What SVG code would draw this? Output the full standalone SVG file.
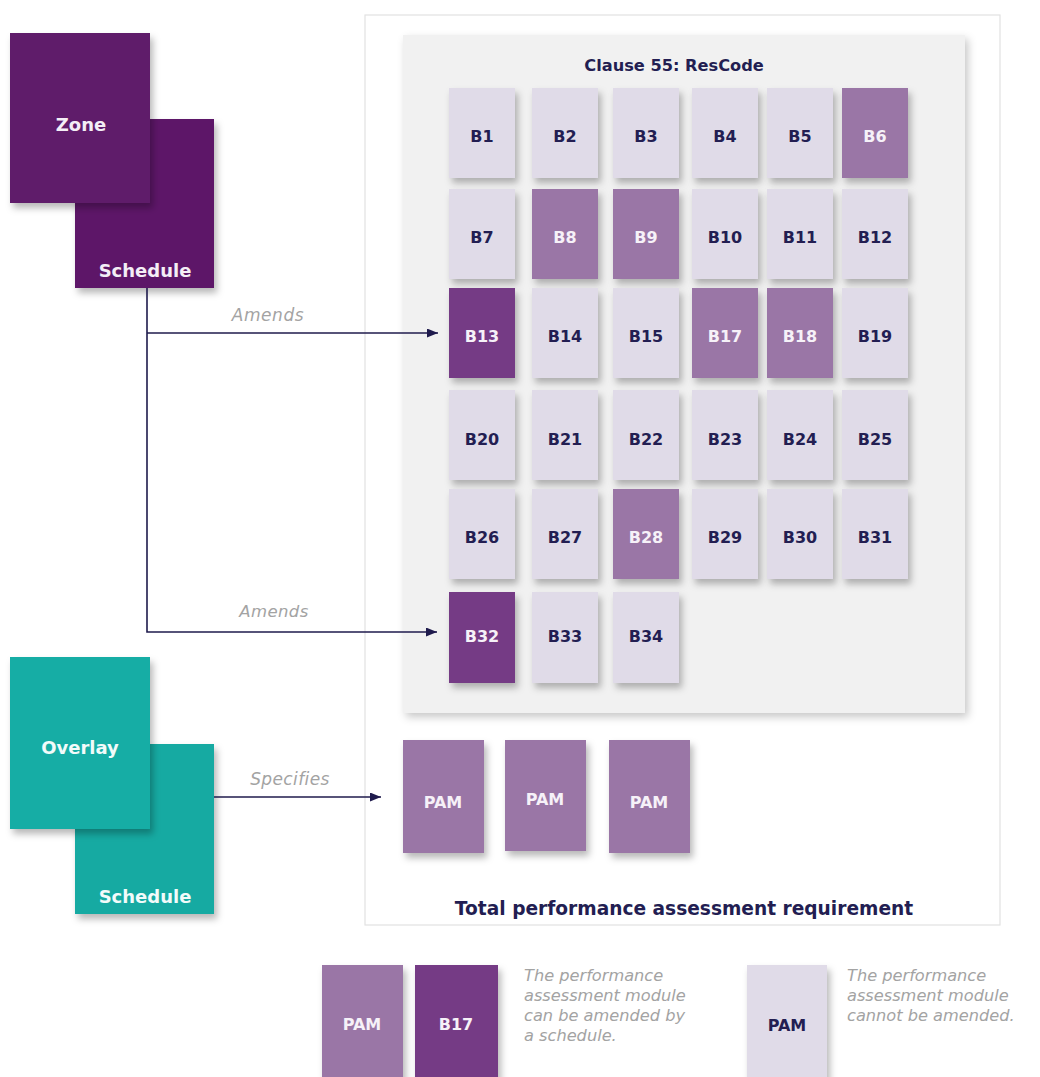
<svg xmlns="http://www.w3.org/2000/svg" width="1040" height="1077" viewBox="0 0 1040 1077">
  <defs>
    <filter id="shadow" x="-20%" y="-20%" width="150%" height="150%">
      <feDropShadow dx="3" dy="5" stdDeviation="3.5" flood-color="#000" flood-opacity="0.28"/>
    </filter>
    <filter id="panelShadow" x="-5%" y="-5%" width="112%" height="112%">
      <feDropShadow dx="3" dy="4" stdDeviation="4" flood-color="#000" flood-opacity="0.22"/>
    </filter>
    <marker id="arrow" viewBox="0 0 11 9" refX="11" refY="4.5" markerWidth="11" markerHeight="9" markerUnits="userSpaceOnUse" orient="auto">
      <path d="M0,0 L11,4.5 L0,9 Z" fill="#1f1b4d"/>
    </marker>
    <style>
      .bold { font-family: "DejaVu Sans", "Liberation Sans", sans-serif; font-weight: bold; }
      .tile { filter: url(#shadow); }
      .light { fill: #e0dbe8; }
      .mid { fill: #9a76a6; }
      .dark { fill: #753a85; }
      .lbl { font-family: "DejaVu Sans", "Liberation Sans", sans-serif; font-weight: bold; font-size: 16px; text-anchor: middle; }
      .navy { fill: #231e52; }
      .white { fill: #f6f1f8; }
      .note { font-family: "DejaVu Sans", "Liberation Sans", sans-serif; font-style: italic; fill: #a3a3a3; }
      .conn { fill: none; stroke: #1f1b4d; stroke-width: 1.6; }
    </style>
  </defs>

  <rect width="1040" height="1077" fill="#ffffff"/>

  <!-- outer frame: total requirement -->
  <g id="total">
    <rect x="365" y="15" width="635" height="910" fill="#ffffff" stroke="#e2e2e2" stroke-width="1.2"/>
    <text class="bold" x="684" y="915" font-size="18.6" text-anchor="middle" fill="#231e52">Total performance assessment requirement</text>
  </g>

  <!-- Clause 55 panel -->
  <g id="clause55">
    <rect x="403" y="35" width="562" height="678" fill="#f1f1f1" filter="url(#panelShadow)"/>
    <text class="bold" x="674" y="71" font-size="16.2" text-anchor="middle" fill="#231e52">Clause 55: ResCode</text>
  </g>

  <!-- row 1 -->
  <g id="B1"><rect class="tile light" x="449" y="88" width="66" height="90"/><text class="lbl navy" x="482" y="142">B1</text></g>
  <g id="B2"><rect class="tile light" x="532" y="88" width="66" height="90"/><text class="lbl navy" x="565" y="142">B2</text></g>
  <g id="B3"><rect class="tile light" x="613" y="88" width="66" height="90"/><text class="lbl navy" x="646" y="142">B3</text></g>
  <g id="B4"><rect class="tile light" x="692" y="88" width="66" height="90"/><text class="lbl navy" x="725" y="142">B4</text></g>
  <g id="B5"><rect class="tile light" x="767" y="88" width="66" height="90"/><text class="lbl navy" x="800" y="142">B5</text></g>
  <g id="B6"><rect class="tile mid" x="842" y="88" width="66" height="90"/><text class="lbl white" x="875" y="142">B6</text></g>

  <!-- row 2 -->
  <g id="B7"><rect class="tile light" x="449" y="189" width="66" height="90"/><text class="lbl navy" x="482" y="243">B7</text></g>
  <g id="B8"><rect class="tile mid" x="532" y="189" width="66" height="90"/><text class="lbl white" x="565" y="243">B8</text></g>
  <g id="B9"><rect class="tile mid" x="613" y="189" width="66" height="90"/><text class="lbl white" x="646" y="243">B9</text></g>
  <g id="B10"><rect class="tile light" x="692" y="189" width="66" height="90"/><text class="lbl navy" x="725" y="243">B10</text></g>
  <g id="B11"><rect class="tile light" x="767" y="189" width="66" height="90"/><text class="lbl navy" x="800" y="243">B11</text></g>
  <g id="B12"><rect class="tile light" x="842" y="189" width="66" height="90"/><text class="lbl navy" x="875" y="243">B12</text></g>

  <!-- row 3 -->
  <g id="B13"><rect class="tile dark" x="449" y="288" width="66" height="90"/><text class="lbl white" x="482" y="342">B13</text></g>
  <g id="B14"><rect class="tile light" x="532" y="288" width="66" height="90"/><text class="lbl navy" x="565" y="342">B14</text></g>
  <g id="B15"><rect class="tile light" x="613" y="288" width="66" height="90"/><text class="lbl navy" x="646" y="342">B15</text></g>
  <g id="B17"><rect class="tile mid" x="692" y="288" width="66" height="90"/><text class="lbl white" x="725" y="342">B17</text></g>
  <g id="B18"><rect class="tile mid" x="767" y="288" width="66" height="90"/><text class="lbl white" x="800" y="342">B18</text></g>
  <g id="B19"><rect class="tile light" x="842" y="288" width="66" height="90"/><text class="lbl navy" x="875" y="342">B19</text></g>

  <!-- row 4 -->
  <g id="B20"><rect class="tile light" x="449" y="390" width="66" height="90"/><text class="lbl navy" x="482" y="445">B20</text></g>
  <g id="B21"><rect class="tile light" x="532" y="390" width="66" height="90"/><text class="lbl navy" x="565" y="445">B21</text></g>
  <g id="B22"><rect class="tile light" x="613" y="390" width="66" height="90"/><text class="lbl navy" x="646" y="445">B22</text></g>
  <g id="B23"><rect class="tile light" x="692" y="390" width="66" height="90"/><text class="lbl navy" x="725" y="445">B23</text></g>
  <g id="B24"><rect class="tile light" x="767" y="390" width="66" height="90"/><text class="lbl navy" x="800" y="445">B24</text></g>
  <g id="B25"><rect class="tile light" x="842" y="390" width="66" height="90"/><text class="lbl navy" x="875" y="445">B25</text></g>

  <!-- row 5 -->
  <g id="B26"><rect class="tile light" x="449" y="489" width="66" height="90"/><text class="lbl navy" x="482" y="543">B26</text></g>
  <g id="B27"><rect class="tile light" x="532" y="489" width="66" height="90"/><text class="lbl navy" x="565" y="543">B27</text></g>
  <g id="B28"><rect class="tile mid" x="613" y="489" width="66" height="90"/><text class="lbl white" x="646" y="543">B28</text></g>
  <g id="B29"><rect class="tile light" x="692" y="489" width="66" height="90"/><text class="lbl navy" x="725" y="543">B29</text></g>
  <g id="B30"><rect class="tile light" x="767" y="489" width="66" height="90"/><text class="lbl navy" x="800" y="543">B30</text></g>
  <g id="B31"><rect class="tile light" x="842" y="489" width="66" height="90"/><text class="lbl navy" x="875" y="543">B31</text></g>

  <!-- row 6 -->
  <g id="B32"><rect class="tile dark" x="449" y="592" width="66" height="91"/><text class="lbl white" x="482" y="642">B32</text></g>
  <g id="B33"><rect class="tile light" x="532" y="592" width="66" height="91"/><text class="lbl navy" x="565" y="642">B33</text></g>
  <g id="B34"><rect class="tile light" x="613" y="592" width="66" height="91"/><text class="lbl navy" x="646" y="642">B34</text></g>

  <!-- performance assessment modules specified by overlay -->
  <g id="PAM1"><rect class="tile mid" x="403" y="740" width="81" height="113"/><text class="lbl white" x="443" y="808" font-size="17">PAM</text></g>
  <g id="PAM2"><rect class="tile mid" x="505" y="740" width="81" height="111"/><text class="lbl white" x="545" y="805" font-size="17">PAM</text></g>
  <g id="PAM3"><rect class="tile mid" x="609" y="740" width="81" height="113"/><text class="lbl white" x="649" y="808" font-size="17">PAM</text></g>

  <!-- zone + schedule -->
  <g id="zone-schedule">
    <rect x="75" y="119" width="139" height="169" fill="#5d1868" filter="url(#shadow)"/>
    <text class="bold" x="145" y="277" font-size="18" text-anchor="middle" fill="#f4eef6">Schedule</text>
  </g>
  <g id="zone">
    <rect x="10" y="33" width="140" height="170" fill="#5f1a6b" filter="url(#shadow)"/>
    <text class="bold" x="81" y="131" font-size="18" text-anchor="middle" fill="#f4eef6">Zone</text>
  </g>

  <!-- overlay + schedule -->
  <g id="overlay-schedule">
    <rect x="75" y="744" width="139" height="170" fill="#16aaa2" filter="url(#shadow)"/>
    <text class="bold" x="145" y="903" font-size="18" text-anchor="middle" fill="#f2fbfa">Schedule</text>
  </g>
  <g id="overlay">
    <rect x="10" y="657" width="140" height="172" fill="#17ada5" filter="url(#shadow)"/>
    <text class="bold" x="80" y="754" font-size="18" text-anchor="middle" fill="#f2fbfa">Overlay</text>
  </g>

  <!-- connectors -->
  <g id="connectors">
    <path class="conn" d="M147,288 V632 H437" marker-end="url(#arrow)"/>
    <path class="conn" d="M147,333 H438" marker-end="url(#arrow)"/>
    <path class="conn" d="M214,797 H381" marker-end="url(#arrow)"/>
    <text class="note" x="268" y="321" font-size="17" letter-spacing="0.6" text-anchor="middle">Amends</text>
    <text class="note" x="274" y="617" font-size="16.5" letter-spacing="0.4" text-anchor="middle">Amends</text>
    <text class="note" x="290" y="785" font-size="17" letter-spacing="0.4" text-anchor="middle">Specifies</text>
  </g>

  <!-- legend -->
  <g id="legend-amendable">
    <rect class="tile mid" x="322" y="965" width="81" height="125"/>
    <text class="lbl white" x="362" y="1030" font-size="17">PAM</text>
    <rect class="tile dark" x="415" y="965" width="83" height="125"/>
    <text class="lbl white" x="456" y="1030" font-size="17">B17</text>
    <text class="note" x="524" font-size="16.2">
      <tspan x="524" y="981">The performance</tspan>
      <tspan x="524" y="1001">assessment module</tspan>
      <tspan x="524" y="1021">can be amended by</tspan>
      <tspan x="524" y="1041">a schedule.</tspan>
    </text>
  </g>
  <g id="legend-fixed">
    <rect class="tile light" x="747" y="965" width="80" height="125"/>
    <text class="lbl navy" x="787" y="1031" font-size="17">PAM</text>
    <text class="note" x="847" font-size="16.2">
      <tspan x="847" y="981">The performance</tspan>
      <tspan x="847" y="1001">assessment module</tspan>
      <tspan x="847" y="1021">cannot be amended.</tspan>
    </text>
  </g>
</svg>
